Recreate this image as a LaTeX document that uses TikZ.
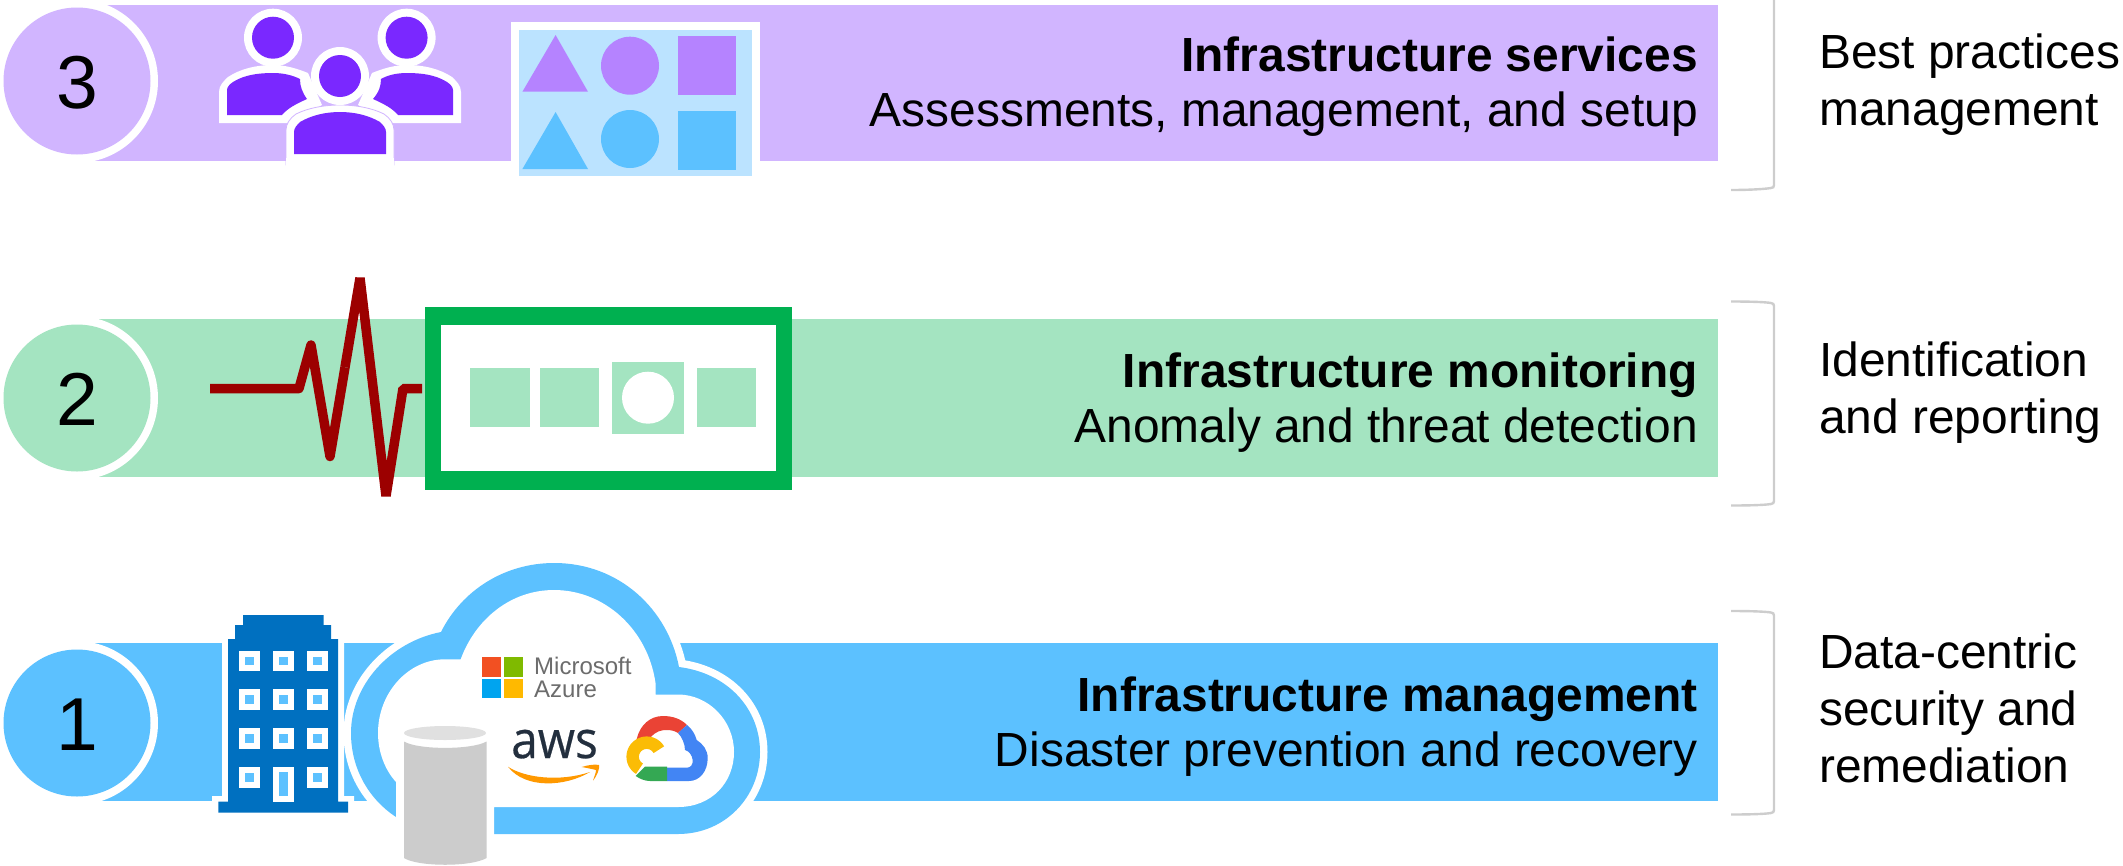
\documentclass[tikz,border=0pt]{standalone}
\usepackage{fontspec}
\usepackage{graphicx}
\setmainfont{Liberation Sans}
\newfontfamily\awsfont[FakeBold=0.5]{Open Sans}
\definecolor{bandpurple}{HTML}{D1B5FF}
\definecolor{bandgreen}{HTML}{A4E4C1}
\definecolor{bandblue}{HTML}{5CC1FF}
\definecolor{peoplepurple}{HTML}{7A28FF}
\definecolor{shapepurple}{HTML}{B583FF}
\definecolor{panelblue}{HTML}{BBE3FF}
\definecolor{ecgred}{HTML}{9C0000}
\definecolor{boxgreen}{HTML}{00B050}
\definecolor{towerblue}{HTML}{0070C0}
\definecolor{bracketgrey}{HTML}{CDCDCD}
\definecolor{msred}{HTML}{F25022}
\definecolor{msgreen}{HTML}{7FBA00}
\definecolor{msblue}{HTML}{00A4EF}
\definecolor{msyellow}{HTML}{FFB900}
\definecolor{awsorange}{HTML}{FF9900}
\definecolor{awsink}{HTML}{232F3E}
\definecolor{gred}{HTML}{EA4335}
\definecolor{gblue}{HTML}{4285F4}
\definecolor{ggreen}{HTML}{34A853}
\definecolor{gyellow}{HTML}{FBBC05}
\definecolor{azgrey}{HTML}{6C6C6C}
\tikzset{
  x=1pt,y=-1pt,
  numdisc/.style={circle,inner sep=0pt,minimum size=147pt},
  numtext/.style={inner sep=0pt,font=\fontsize{75}{80}\selectfont},
  bandtext/.style={inner sep=0pt,align=right,anchor=base east,font=\fontsize{47.9}{55}\selectfont},
  sidetext/.style={inner sep=0pt,align=left,anchor=base west,font=\fontsize{47.9}{57}\selectfont},
  bracketline/.style={draw=bracketgrey,line width=2.4pt},
  ecgline/.style={draw=ecgred,line width=9.5pt},
}
\begin{document}
\begin{tikzpicture}
\useasboundingbox (0,0) rectangle (2123,865);
\clip (0,0) rectangle (2123,865);
% bands
\fill[bandpurple] (76,5) rectangle (1718,161);
\fill[bandgreen] (76,319) rectangle (1718,477);
\fill[bandblue] (76,643) rectangle (1718,801);
% discs
\foreach \cy in {81,398,723} {\fill[white] (76,\cy) circle (82);}
\node[numdisc,fill=bandpurple] (d3) at (77,81) {};
\node[numdisc,fill=bandgreen] (d2) at (77,398) {};
\node[numdisc,fill=bandblue] (d1) at (77,723) {};
\node[numtext] (n3) at (77,83) {3};
\node[numtext] (n2) at (77,399.5) {2};
\node[numtext] (n1) at (77,725) {1};
% band text
\node[bandtext] (t3) at (1698,126) {\textbf{Infrastructure services}\\Assessments, management, and setup};
\node[bandtext] (t2) at (1698,442) {\textbf{Infrastructure monitoring}\\Anomaly and threat detection};
\node[bandtext] (t1) at (1698,766) {\textbf{Infrastructure management}\\Disaster prevention and recovery};
% side text
\node[sidetext] (s3) at (1819,125.5) {Best practices\\management};
\node[sidetext] (s2) at (1819,433.5) {Identification\\and reporting};
\node[sidetext] (s1) at (1819,782.5) {Data-centric\\security and\\remediation};
% brackets
\draw[bracketline] (1731,190) .. controls (1750,190) and (1765,189) .. (1771,188) .. controls (1773,188) and (1774,187) .. (1774,185) -- (1774,-3);
\draw[bracketline] (1731,301.5) .. controls (1750,301.5) and (1765,302) .. (1771,303) .. controls (1773,303.5) and (1774,304) .. (1774,306) -- (1774,501) .. controls (1774,503) and (1773,503.5) .. (1771,504) .. controls (1765,505) and (1750,505.5) .. (1731,505.5);
\draw[bracketline] (1731,611) .. controls (1750,611) and (1765,611.5) .. (1771,612.5) .. controls (1773,613) and (1774,613.5) .. (1774,615.5) -- (1774,810) .. controls (1774,812) and (1773,812.5) .. (1771,813) .. controls (1765,814) and (1750,814.5) .. (1731,814.5);
% people: white silhouettes
\fill[white] (219,123) -- (219,92) .. controls (219,85) and (224,81) .. (228,77) .. controls (240,69) and (256,65) .. (273,65) .. controls (286,65) and (298,69) .. (308,73) -- (322,105) -- (287,123) -- cycle;
\fill[white] (461,123) -- (461,92) .. controls (461,85) and (456,81) .. (452,77) .. controls (440,69) and (424,65) .. (407,65) .. controls (394,65) and (382,69) .. (372,73) -- (358,105) -- (393,123) -- cycle;
\fill[white] (273,37.7) circle (29);
\fill[white] (406.6,37.7) circle (29);
\fill[peoplepurple] (273,37.7) circle (21);
\fill[peoplepurple] (406.6,37.7) circle (21);
\fill[peoplepurple] (227,115) -- (227,90) .. controls (227,87) and (230,84) .. (233,82) .. controls (244,75) and (258,73) .. (273,73) .. controls (283,73) and (292,75) .. (300,79) .. controls (300,86) and (302,92) .. (307,99) .. controls (296,104) and (288,108) .. (282,115) -- cycle;
\fill[peoplepurple] (453,115) -- (453,90) .. controls (453,87) and (450,84) .. (447,82) .. controls (436,75) and (422,73) .. (407,73) .. controls (397,73) and (388,75) .. (381,79) .. controls (381,86) and (379,92) .. (373,99) .. controls (384,104) and (392,108) .. (398,115) -- cycle;
\filldraw[fill=white,draw=bandpurple,line width=.8pt] (286,165) -- (286,130) .. controls (286,124) and (290,118) .. (296,114) .. controls (308,108) and (324,105) .. (340,105) .. controls (356,105) and (372,108) .. (384,114) .. controls (390,118) and (394,124) .. (394,130) -- (394,165) -- cycle;
\fill[white] (286,158) rectangle (394,170);
\fill[white] (340,76) circle (29);
\fill[peoplepurple] (340,76) circle (21);
\fill[peoplepurple] (294,154) -- (294,132) .. controls (294,128) and (297,125) .. (300,122) .. controls (312,115) and (326,112) .. (340,112) .. controls (354,112) and (368,115) .. (380,122) .. controls (383,125) and (386,128) .. (386,132) -- (386,154) -- cycle;
% shape panel
\fill[white] (511,22) rectangle (760,176);
\fill[panelblue] (519,30) rectangle (751.5,175.7);
\fill[shapepurple] (555.6,35) -- (588,91.7) -- (522.4,91.7) -- cycle;
\fill[shapepurple] (630,65.7) circle (29);
\fill[shapepurple] (678,35.7) rectangle (736,95);
\fill[bandblue] (555.6,112) -- (588,169) -- (522.4,169) -- cycle;
\fill[bandblue] (630,139) circle (29);
\fill[bandblue] (678,110.7) rectangle (736,170);
% ECG trace
\draw[ecgline,line join=round] (210,388.5) -- (299,388.5) -- (311,345) -- (330,456.5) -- (345,367.25);
\draw[ecgline,line join=bevel] (345,367.25) -- (360,278) -- (386,496) -- (403,388.5) -- (422,388.5);
% monitor box
\fill[boxgreen] (425,307) rectangle (792,490);
\fill[white] (441,325) rectangle (776,471);
\fill[bandgreen] (470.4,367.7) rectangle (530,426.7);
\fill[bandgreen] (540,367.7) rectangle (599,426.7);
\fill[bandgreen] (612,361.7) rectangle (684,434);
\fill[white] (648,397.7) circle (26);
\fill[bandgreen] (697,367.7) rectangle (756,426.7);
% building
\fill[white] (222,643) -- (222,796) -- (212,796) -- (212,801) -- (354,801) -- (354,796) -- (344,796) -- (344,643) -- cycle;
\fill[towerblue] (218.4,812.7) -- (218.4,801.7) -- (228,801.7) -- (228,639) -- (235,639) -- (235,625) -- (243,625) -- (243,615) -- (323.6,615) -- (323.6,625) -- (331,625) -- (331,639) -- (338,639) -- (338,801.7) -- (348,801.7) -- (348,812.7) -- cycle;
\foreach \wy/\wx in {650.7/239,650.7/273,650.7/307,689/239,689/273,689/307,728/239,728/273,728/307,767/239,767/307} {
  \fill[white] (\wx,\wy) rectangle ++(20.5,20.5);
  \fill[bandblue] ({\wx+6},{\wy+6}) rectangle ++(8.5,8.5);
}
\fill[white] (273,766.7) rectangle (293.5,801.7);
\fill[bandblue] (279,772) rectangle (287.6,796);
% cloud: white halo, then blue ring, then white interior
\def\cloudoutline{(494,834) -- (678,834) .. controls (725,834) and (760,797) .. (760,752) .. controls (760,708) and (727,673) .. (679,667) .. controls (668,610) and (620,563) .. (554,563) .. controls (505,563) and (462,590) .. (441,632) .. controls (390,642) and (351,685) .. (351,733) .. controls (351,770) and (370,800) .. (396,817) -- cycle}
\draw[white,line width=15pt] \cloudoutline;
\fill[bandblue] \cloudoutline;
\fill[white] (494,807) -- (678,807) .. controls (712,807) and (734,782) .. (734,752) .. controls (734,720) and (708,694.5) .. (678,694.5) -- (655.5,694.5) -- (655.5,683) .. controls (648,630) and (605,590) .. (554,590) .. controls (510,590) and (475,620) .. (460.7,659.3) -- (445,659.3) .. controls (408,659.3) and (378,693) .. (378,733) .. controls (378,752) and (385,770) .. (396,782) -- (396,870) -- (494,870) -- cycle;
% cylinder
\fill[white] (396,782) rectangle (494,870);
\fill[black!12] (445,733) ellipse (41 and 7);
\fill[black!20] (404,741.5) .. controls (418,750) and (472,750) .. (486.5,741.5) -- (486.5,858) .. controls (472,867) and (418,867) .. (404,858) -- cycle;
% Microsoft Azure
\fill[msred] (482,657) rectangle (501,676.7);
\fill[msgreen] (503.5,657) rectangle (522.6,676.7);
\fill[msblue] (482,679) rectangle (501,698);
\fill[msyellow] (503.5,679) rectangle (522.6,698);
\node[inner sep=0pt,align=left,anchor=base west,text=azgrey,font=\fontsize{24}{23.7}\selectfont] (az) at (534,697.7) {Microsoft\\Azure};
% aws
\node[inner sep=0pt,anchor=base west,text=awsink,font=\fontsize{52}{56}\awsfont] (aws) at (511,758) {\scalebox{.92}[1]{aws}};
\fill[awsorange] (508,766.7) .. controls (525,778) and (560,782) .. (590,772) .. controls (565,787) and (525,789) .. (508,766.7) -- cycle;
\fill[awsorange] (581.7,767) .. controls (588,765) and (595,764) .. (599,765) .. controls (600,768) and (597,776) .. (593,780.7) .. controls (594,777) and (596,773) .. (596,770) .. controls (592,769) and (587,768) .. (581.7,767) -- cycle;
% Google Cloud
\fill[gred] (636.7,739) .. controls (640,725) and (650,716) .. (663,716) .. controls (673,716) and (681,719) .. (687,725) -- (678,733) .. controls (675,731) and (671,730) .. (667,730) .. controls (661,730) and (656,731) .. (650,738) -- cycle;
\fill[gblue] (687,725) .. controls (692,729) and (695,734) .. (696.7,740) .. controls (703,744) and (707.7,750) .. (707.7,758) .. controls (707.7,771) and (700,781) .. (689,781) -- (667,781) -- (667,767.7) -- (687,767.7) .. controls (691,767.7) and (693,764) .. (692.7,760) .. controls (692,755) and (689,751) .. (685,750) .. controls (685,744) and (682,737) .. (678,733) -- cycle;
\fill[ggreen] (635.7,776) -- (645,766.7) -- (667,766.7) -- (667,781) -- (650,781) .. controls (645,781) and (640,779) .. (635.7,776) -- cycle;
\draw[gyellow,line width=12.5pt] plot[domain=121:330,samples=40,smooth] ({646.7+14*cos(\x)},{756.7+14*sin(\x)});
\end{tikzpicture}
\end{document}
